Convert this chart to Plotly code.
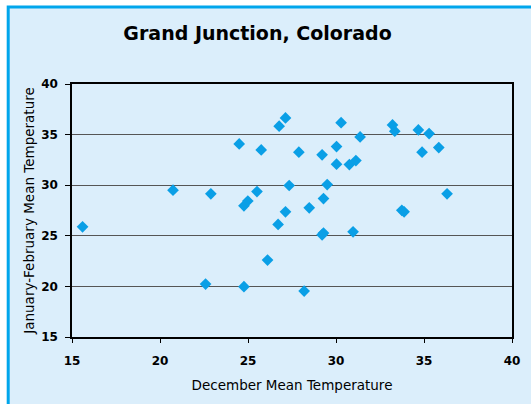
import plotly.graph_objects as go

# December mean temperature vs January-February mean temperature
dec_temp = [15.6, 20.74, 22.89, 22.59, 24.5, 24.77, 24.99, 24.77, 25.51, 25.75,
            26.11, 26.71, 26.77, 27.13, 27.13, 27.34, 27.89, 28.19, 28.48, 29.21,
            29.29, 29.29, 29.21, 29.5, 30.03, 30.03, 30.29, 30.76, 30.97, 31.13,
            31.37, 33.21, 33.34, 33.74, 33.87, 34.68, 34.89, 35.29, 35.84, 36.31]
janfeb_temp = [25.89, 29.51, 29.15, 20.23, 34.08, 27.96, 28.44, 19.97, 29.37, 33.49,
               22.6, 26.12, 35.83, 36.65, 27.37, 29.97, 33.26, 19.54, 27.76, 33.0,
               28.68, 25.27, 25.1, 30.06, 33.82, 32.08, 36.18, 32.04, 25.39, 32.43,
               34.77, 35.96, 35.34, 27.52, 27.37, 35.46, 33.26, 35.1, 33.72, 29.15]

x_ticks = [15, 20, 25, 30, 35, 40]
y_ticks = [15, 20, 25, 30, 35, 40]

font_name = "DejaVu Sans, Arial, sans-serif"
bg = "#dbeefb"

fig = go.Figure()

fig.add_trace(
    go.Scatter(
        x=dec_temp,
        y=janfeb_temp,
        mode="markers",
        marker=dict(symbol="diamond", size=9, color="#0a9fe6"),
        showlegend=False,
    )
)

# light blue panel with blue border on top/left, like the cropped original
fig.add_shape(
    type="rect",
    xref="paper",
    yref="paper",
    x0=-0.145,
    x1=1.3,
    y0=-0.5,
    y1=1.304,
    fillcolor=bg,
    line=dict(color="#00a6ec", width=3),
    layer="below",
)

fig.update_layout(
    width=531,
    height=404,
    margin=dict(l=72, r=19, t=84, b=67),
    paper_bgcolor="white",
    plot_bgcolor=bg,
    font=dict(family=font_name, color="black"),
    title=dict(
        text="<b>Grand Junction, Colorado</b>",
        x=0.485,
        xanchor="center",
        y=0.918,
        yanchor="middle",
        font=dict(size=19, family=font_name),
    ),
    xaxis=dict(
        range=[15, 40],
        tickvals=x_ticks,
        ticktext=[f"<b>{v}</b>" for v in x_ticks],
        tickfont=dict(size=12),
        ticks="outside",
        ticklen=4,
        tickcolor="black",
        ticklabelstandoff=8,
        showgrid=False,
        zeroline=False,
        showline=True,
        linecolor="black",
        linewidth=1.5,
        mirror=True,
        title=dict(text="December Mean Temperature", font=dict(size=13.5), standoff=13),
    ),
    yaxis=dict(
        range=[15, 40],
        tickvals=y_ticks,
        ticktext=[f"<b>{v}</b>" for v in y_ticks],
        tickfont=dict(size=12),
        ticks="outside",
        ticklen=5,
        tickcolor="black",
        ticklabelstandoff=5,
        showgrid=True,
        gridcolor="#555555",
        gridwidth=1,
        zeroline=False,
        showline=True,
        linecolor="black",
        linewidth=1.5,
        mirror=True,
        title=dict(text="January-February Mean Temperature", font=dict(size=13.5), standoff=3),
    ),
)

fig.write_html(
    "out.html",
    config={"displayModeBar": False},
    post_script="document.body.style.margin = '0';",
)
